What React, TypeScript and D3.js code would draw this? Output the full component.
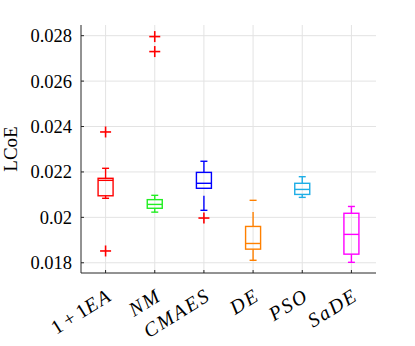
import React from "react";
import * as d3 from "d3";

// algorithm names along the x axis
const categories = ["1+1EA", "NM", "CMAES", "DE", "PSO", "SaDE"];
const boxColors = ["#ff0000", "#22ee22", "#0000ff", "#ff8000", "#1eaee6", "#ff00ff"];

// box statistics
const whiskerLow = [0.02084, 0.02023, 0.02031, 0.01811, 0.02088, 0.01802];
const q1 = [0.02095, 0.0204, 0.02128, 0.0186, 0.02101, 0.01838];
const median = [0.02163, 0.02057, 0.0215, 0.01885, 0.02123, 0.01925];
const q3 = [0.02172, 0.02078, 0.02198, 0.0196, 0.0215, 0.02018];
const whiskerHigh = [0.02216, 0.02097, 0.02247, 0.02075, 0.02179, 0.02048];
const outliers = [
  [0.02376, 0.01852],
  [0.02796, 0.0273],
  [0.01997],
  [],
  [],
  [],
];

const yTicks = [0.018, 0.02, 0.022, 0.024, 0.026, 0.028];

const W = 415;
const H = 346;
const margin = { top: 25, right: 39, bottom: 73, left: 81 };

// LaTeX-ish label: digits and + upright, letters italic
const MathLabel = ({ text }: { text: string }) => {
  const parts = text.split(/([0-9]+|\+)/).filter((s) => s.length > 0);
  return (
    <>
      {parts.map((p, i) => {
        if (p === "+") return <tspan key={i} fontStyle="normal">{"\u2009+\u2009"}</tspan>;
        if (/^[0-9]+$/.test(p)) return <tspan key={i} fontStyle="normal">{p}</tspan>;
        return (
          <tspan key={i} fontStyle="italic" letterSpacing={2}>
            {p}
          </tspan>
        );
      })}
    </>
  );
};

const App = () => {
  const x = d3
    .scaleLinear()
    .domain([0.5, categories.length + 0.5])
    .range([margin.left, W - margin.right]);
  const y = d3
    .scaleLinear()
    .domain([0.01755, 0.02847])
    .range([H - margin.bottom, margin.top]);

  const x0 = margin.left;
  const x1 = W - margin.right;
  const y0 = H - margin.bottom;
  const y1 = margin.top;
  const boxW = 15;
  const capW = 7;
  const font = "'Liberation Serif', 'Times New Roman', serif";

  return (
    <svg width={W} height={H} style={{ position: "absolute", left: 0, top: 0 }}>
      <rect width={W} height={H} fill="#fff" />
      {/* grid */}
      {yTicks.map((t) => (
        <line key={"gy" + t} x1={x0} x2={x1} y1={y(t)} y2={y(t)} stroke="#e3e3e3" strokeWidth={1} />
      ))}
      {categories.map((c, i) => (
        <line key={"gx" + c} x1={x(i + 1)} x2={x(i + 1)} y1={y1} y2={y0} stroke="#e3e3e3" strokeWidth={1} />
      ))}

      {/* boxes */}
      {categories.map((c, i) => {
        const cx = x(i + 1);
        const col = boxColors[i];
        return (
          <g key={"b" + c} stroke={col} strokeWidth={1.4} fill="none">
            <line x1={cx} x2={cx} y1={y(q3[i])} y2={y(whiskerHigh[i])} strokeDasharray="14.5,12" />
            <line x1={cx} x2={cx} y1={y(whiskerLow[i])} y2={y(q1[i])} strokeDasharray="14.5,12" />
            <line x1={cx - capW / 2} x2={cx + capW / 2} y1={y(whiskerHigh[i])} y2={y(whiskerHigh[i])} />
            <line x1={cx - capW / 2} x2={cx + capW / 2} y1={y(whiskerLow[i])} y2={y(whiskerLow[i])} />
            <rect x={cx - boxW / 2} y={y(q3[i])} width={boxW} height={y(q1[i]) - y(q3[i])} />
            <line x1={cx - boxW / 2} x2={cx + boxW / 2} y1={y(median[i])} y2={y(median[i])} />
          </g>
        );
      })}

      {/* outliers */}
      {outliers.map((arr, i) =>
        arr.map((v, j) => {
          const cx = x(i + 1);
          const cy = y(v);
          return (
            <g key={"o" + i + "-" + j} stroke="#ff0000" strokeWidth={1.6}>
              <line x1={cx - 5.5} x2={cx + 5.5} y1={cy} y2={cy} />
              <line x1={cx} x2={cx} y1={cy - 5.5} y2={cy + 5.5} />
            </g>
          );
        })
      )}

      {/* axes */}
      <line x1={x0} x2={x0} y1={y1} y2={y0} stroke="#262626" strokeWidth={1} />
      <line x1={x0} x2={x1} y1={y0} y2={y0} stroke="#262626" strokeWidth={1} />
      {yTicks.map((t) => (
        <g key={"ty" + t}>
          <line x1={x0} x2={x0 + 3} y1={y(t)} y2={y(t)} stroke="#262626" />
          <text
            x={x0 - 9}
            y={y(t)}
            dy="0.35em"
            textAnchor="end"
            fontFamily={font}
            fontSize={18.5}
            fill="#000"
          >
            {t === 0.02 ? "0.02" : d3.format(".3f")(t)}
          </text>
        </g>
      ))}
      {categories.map((c, i) => {
        const cx = x(i + 1);
        return (
          <g key={"tx" + c}>
            <line x1={cx} x2={cx} y1={y0} y2={y0 - 3} stroke="#262626" />
            <text
              transform={`translate(${cx + 8},${y0 + 26}) rotate(-32)`}
              textAnchor="end"
              fontFamily={font}
              fontSize={20}
              fill="#000"
            >
              <MathLabel text={c} />
            </text>
          </g>
        );
      })}
      <text
        transform={`translate(17,${(y0 + y1) / 2}) rotate(-90)`}
        textAnchor="middle"
        fontFamily={font}
        fontSize={19}
        fill="#000"
      >
        LCoE
      </text>
    </svg>
  );
};

export default App;
